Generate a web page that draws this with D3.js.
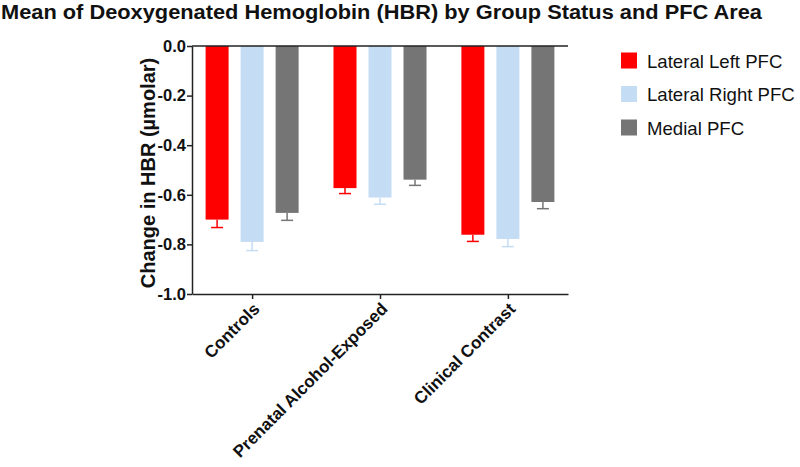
<!DOCTYPE html>
<html><head><meta charset="utf-8">
<script src="https://cdn.jsdelivr.net/npm/d3@7"></script>
<style>body{margin:0;background:#fff}svg{display:block}text{font-family:"Liberation Sans",Arial,sans-serif}</style>
</head><body><svg id="c" width="800" height="467"></svg>
<script>
const categories = ["Controls", "Prenatal Alcohol-Exposed", "Clinical Contrast"];
const series = ["Lateral Left PFC", "Lateral Right PFC", "Medial PFC"];
const colors = ["#ff0000", "#c5dcf5", "#757575"];
const meanLeft = [-0.70, -0.573, -0.761];
const meanRight = [-0.79, -0.611, -0.778];
const meanMedial = [-0.673, -0.539, -0.629];
const semLeft = [0.032, 0.022, 0.027];
const semRight = [0.035, 0.027, 0.031];
const semMedial = [0.03, 0.023, 0.027];
const yTicks = [0, -0.2, -0.4, -0.6, -0.8, -1.0];
const yTickLabels = ["0.0", "-0.2", "-0.4", "-0.6", "-0.8", "-1.0"];
const title = "Mean of Deoxygenated Hemoglobin (HBR) by Group Status and PFC Area";
const yTitle = "Change in HBR (\u00b5molar)";

const means = [meanLeft, meanRight, meanMedial];
const sems = [semLeft, semRight, semMedial];

const svg = d3.select("#c");
const L = 192, R = 568, T = 46, B = 294;
const y = d3.scaleLinear().domain([-1, 0]).range([B, T]);
const x0 = d3.scalePoint().domain(categories).range([L, R]).padding(0.47);
const x1 = d3.scaleBand().domain(series).range([-52.5, 52.5]).paddingInner(0.343).paddingOuter(0.171);

const axisColor = "#222";
const FF = '"Liberation Sans",Arial,sans-serif';

// title
svg.append("text").attr("x", 1).attr("y", 19).attr("font-size", 20).attr("font-weight", "bold")
  .attr("fill", "#111").attr("textLength", 761).attr("lengthAdjust", "spacingAndGlyphs").text(title);

// bars
const g = svg.append("g");
categories.forEach((c, ci) => {
  series.forEach((s, si) => {
    const v = means[si][ci], e = sems[si][ci];
    const bx = x0(c) + x1(s);
    g.append("rect").attr("x", bx).attr("y", y(0)).attr("width", x1.bandwidth())
      .attr("height", y(v) - y(0)).attr("fill", colors[si]);
    const cx = bx + x1.bandwidth() / 2;
    g.append("line").attr("x1", cx).attr("x2", cx).attr("y1", y(v)).attr("y2", y(v - e))
      .attr("stroke", colors[si]).attr("stroke-width", 1.5);
    g.append("line").attr("x1", cx - 6).attr("x2", cx + 6).attr("y1", y(v - e)).attr("y2", y(v - e))
      .attr("stroke", colors[si]).attr("stroke-width", 1.5);
  });
});

// zero line
svg.append("line").attr("x1", L).attr("x2", R).attr("y1", y(0)).attr("y2", y(0))
  .attr("stroke", axisColor).attr("stroke-width", 1.5);

// y axis
const ya = svg.append("g").attr("transform", `translate(${L},0)`)
  .call(d3.axisLeft(y).tickValues(yTicks).tickFormat((d, i) => yTickLabels[i]).tickSize(5).tickPadding(1).tickSizeOuter(0));
ya.select(".domain").attr("stroke", axisColor).attr("stroke-width", 1.5);
ya.selectAll(".tick line").attr("stroke", axisColor).attr("stroke-width", 1.5);
ya.selectAll(".tick text").attr("font-size", 16.5).attr("font-weight", "bold").attr("fill", "#111")
  .style("font-family", FF);

// x axis
const xa = svg.append("g").attr("transform", `translate(0,${B})`)
  .call(d3.axisBottom(x0).tickSize(5).tickSizeOuter(0));
xa.select(".domain").attr("stroke", axisColor).attr("stroke-width", 1.5);
xa.selectAll(".tick line").attr("stroke", axisColor).attr("stroke-width", 1.5);
xa.selectAll(".tick text").attr("font-size", 17).attr("font-weight", "bold").attr("fill", "#111")
  .style("font-family", FF)
  .attr("text-anchor", "end").attr("dy", 0).attr("y", 0)
  .attr("transform", "translate(8,16) rotate(-45)");

// y title
svg.append("text").attr("transform", `translate(155,${(T + B) / 2 + 3}) rotate(-90)`)
  .attr("text-anchor", "middle").attr("font-size", 20).attr("font-weight", "bold").attr("fill", "#111")
  .text(yTitle);

// legend
const lg = svg.append("g");
series.forEach((s, i) => {
  const ly = 52.5 + i * 33.5;
  lg.append("rect").attr("x", 621).attr("y", ly).attr("width", 16).attr("height", 16).attr("fill", colors[i]);
  lg.append("text").attr("x", 647).attr("y", ly + 15).attr("font-size", 18.6).attr("fill", "#111").text(s);
});
</script></body></html>
